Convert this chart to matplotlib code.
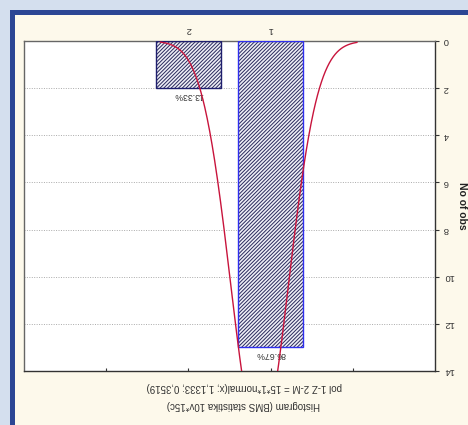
import numpy as np
import matplotlib
matplotlib.use("Agg")
import matplotlib.pyplot as plt
from matplotlib.patches import Rectangle

plt.rcParams['font.family'] = ['Liberation Sans', 'DejaVu Sans']
plt.rcParams['hatch.linewidth'] = 0.7

# ---- data ----
categories = [1, 2]
counts = [13, 2]
pct_labels = ["86.67%", "13.33%"]
fit_n = 15
fit_mean = 1.1333
fit_sd = 0.3519
fit_range = [-0.05, 2.34]
y_ticks = [0, 2, 4, 6, 8, 10, 12, 14]
x_minor_ticks = [0, 1, 2, 3]
fit_label = "pol 1-Z 2-M = 15*1*normal(x; 1,1333; 0,3519)"
title = "Histogram (BMS statistika 10v*15c)"
y_title = "No of obs"

W, H = 468, 425
fig = plt.figure(figsize=(W / 100, H / 100), dpi=100)
fig.patch.set_facecolor('#D4DFEE')
fig.patches.append(Rectangle((10 / W, 0), 1, (H - 10) / H, transform=fig.transFigure,
                             facecolor='#2C4694', edgecolor='none', zorder=-2))
fig.patches.append(Rectangle((15 / W, 0), 1, (H - 15) / H, transform=fig.transFigure,
                             facecolor='#FDF9EB', edgecolor='none', zorder=-1))

ax = fig.add_axes([24 / W, 1 - 371 / H, (435 - 24) / W, (371 - 41) / H])
ax.set_zorder(2)
ax.set_facecolor('white')
ax.set_xlim(4, -1)
ax.set_ylim(14, 0)

# grid
ax.set_yticks(y_ticks)
ax.yaxis.grid(True, linestyle=(0, (1, 1.5)), color='#AAAAAA', linewidth=0.7)
ax.set_axisbelow(True)

# bars
edge_cols = ['#2F2FF0', '#1E1E6E']
for c, n, ec in zip(categories, counts, edge_cols):
    ax.bar(c, n, width=0.8, facecolor='#EEEEF6', edgecolor='#2A2A5C', hatch='/' * 9,
           linewidth=0, zorder=2)
    ax.bar(c, n, width=0.8, facecolor='none', edgecolor=ec, linewidth=1.0, zorder=3)

for c, n, lab in zip(categories, counts, pct_labels):
    ax.annotate(lab, (c, n), xytext=(0, -2), textcoords='offset points',
                ha='center', va='top', rotation=180, fontsize=6.3, color='#333333', zorder=4)

# fitted normal curve
xs = np.linspace(fit_range[0], fit_range[1], 400)
ys = fit_n * np.exp(-0.5 * ((xs - fit_mean) / fit_sd) ** 2) / (fit_sd * np.sqrt(2 * np.pi))
ax.plot(xs, ys, color='#C8143C', linewidth=1.0, zorder=5, clip_on=True)

# y axis on the right (upside-down chart)
ax.yaxis.tick_right()
ax.tick_params(axis='y', direction='out', length=3, width=0.8, colors='#333333',
               labelsize=6.8, pad=3)
for t in ax.get_yticklabels():
    t.set_rotation(180)
    t.set_va('center')

# category labels on top
ax.set_xticks(categories)
ax.set_xticklabels([str(c) for c in categories], rotation=180)
ax.xaxis.tick_top()
ax.tick_params(axis='x', length=0, labelsize=6.8, pad=5, colors='#333333')

# small ticks at bottom spine
sec = ax.secondary_xaxis('bottom')
sec.set_xticks(x_minor_ticks)
sec.set_xticklabels([''] * len(x_minor_ticks))
sec.tick_params(direction='in', length=2.5, width=0.8, color='#333333')
sec.spines['bottom'].set_visible(False)

for s in ['top', 'left']:
    ax.spines[s].set_color('#666666')
for s in ['bottom', 'right']:
    ax.spines[s].set_color('#333333')
for s in ax.spines.values():
    s.set_linewidth(1.0)

fig.text(462 / W, 1 - 206 / H, y_title, rotation=270, ha='center', va='center',
         fontsize=7.5, fontweight='bold', color='#222222')
fig.text(244 / W, 1 - 387 / H, fit_label, rotation=180, ha='center', va='center',
         fontsize=7, color='#333333')
fig.text(243 / W, 1 - 405 / H, title, rotation=180, ha='center', va='center',
         fontsize=7, color='#333333')

fig.savefig('out.png', dpi=100, facecolor=fig.get_facecolor())
